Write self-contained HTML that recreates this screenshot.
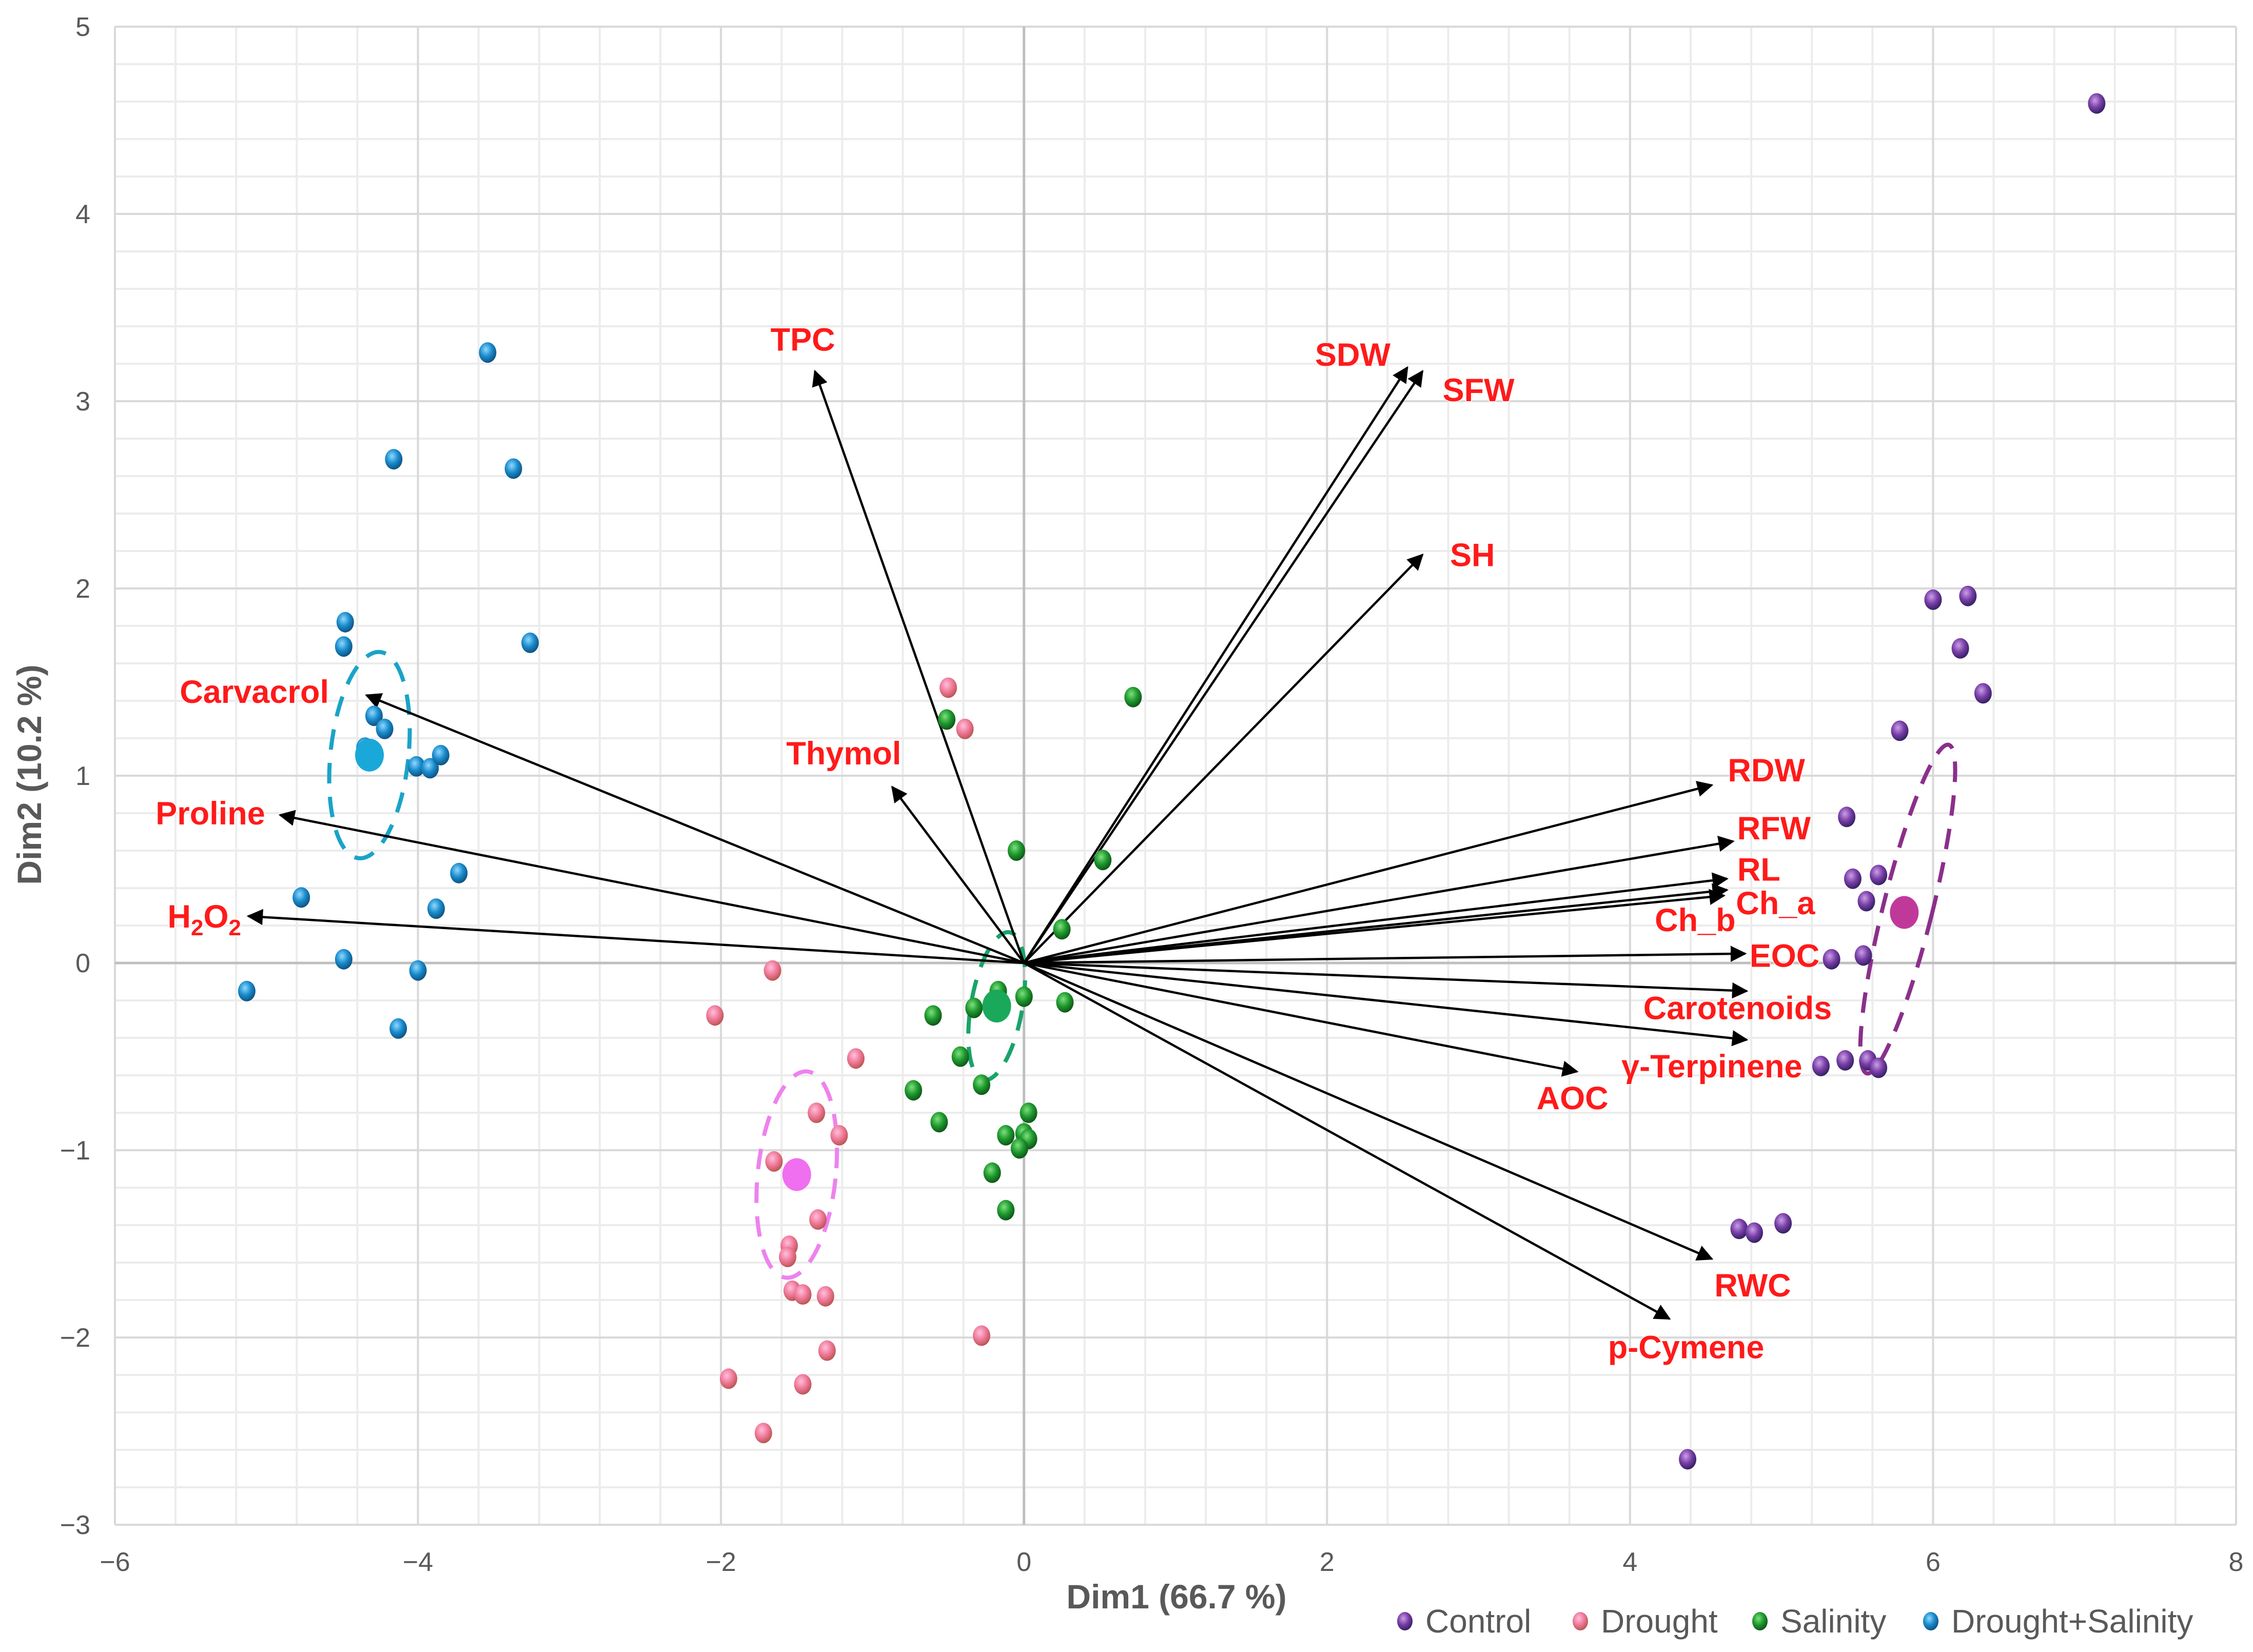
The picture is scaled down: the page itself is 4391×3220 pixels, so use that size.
<!DOCTYPE html>
<html><head><meta charset="utf-8"><style>
html,body{margin:0;padding:0;background:#fff;}
svg{display:block;}
text{font-family:"Liberation Sans",sans-serif;}
</style></head><body>
<svg id="chart" width="4391" height="3220" viewBox="0 0 4391 3220" xmlns="http://www.w3.org/2000/svg">
<defs>
<radialGradient id="gC" cx="0.4" cy="0.35" r="0.7"><stop offset="0" stop-color="#c9a0e6"/><stop offset="0.5" stop-color="#7a3fa8"/><stop offset="1" stop-color="#2a1c5a"/></radialGradient>
<radialGradient id="gD" cx="0.4" cy="0.35" r="0.7"><stop offset="0" stop-color="#ffc0dc"/><stop offset="0.5" stop-color="#f07a9a"/><stop offset="1" stop-color="#b4504a"/></radialGradient>
<radialGradient id="gS" cx="0.4" cy="0.35" r="0.7"><stop offset="0" stop-color="#7ee07e"/><stop offset="0.5" stop-color="#1f9a2f"/><stop offset="1" stop-color="#0b4d14"/></radialGradient>
<radialGradient id="gB" cx="0.4" cy="0.35" r="0.7"><stop offset="0" stop-color="#8fd8ff"/><stop offset="0.5" stop-color="#1a8ccc"/><stop offset="1" stop-color="#0b4a78"/></radialGradient>
<marker id="ah" viewBox="0 0 10 10" refX="9" refY="5" markerWidth="7" markerHeight="7" orient="auto-start-reverse" markerUnits="strokeWidth"><path d="M0,0 L10,5 L0,10 z" fill="#000"/></marker>
</defs>
<g id="grid"></g>
<g id="axes"></g>
<g id="ellipses"></g>
<g id="arrows"></g>
<g id="points"></g>
<g id="labels"></g>
<text x="2293" y="3135" font-size="66" font-weight="bold" fill="#595959" text-anchor="middle">Dim1 (66.7 %)</text>
<text transform="translate(80,1510) rotate(-90)" font-size="66" font-weight="bold" fill="#595959" text-anchor="middle">Dim2 (10.2 %)</text>
<g id="legend"></g>
</svg>
<script>
const xTicks=[-6,-4,-2,0,2,4,6,8];
const yTicks=[-3,-2,-1,0,1,2,3,4,5];
const controlX=[7.08,6.0,6.23,6.18,6.33,5.78,5.43,5.47,5.64,5.56,5.33,5.54,5.26,5.42,5.57,5.64,4.72,4.82,5.01,4.38];
const controlY=[4.59,1.94,1.96,1.68,1.44,1.24,0.78,0.45,0.47,0.33,0.02,0.04,-0.55,-0.52,-0.52,-0.56,-1.42,-1.44,-1.39,-2.65];
const droughtX=[-0.50,-0.39,-1.66,-2.04,-1.11,-1.37,-1.22,-1.65,-1.36,-1.55,-1.56,-1.53,-1.46,-1.31,-1.30,-0.28,-1.95,-1.46,-1.72];
const droughtY=[1.47,1.25,-0.04,-0.28,-0.51,-0.80,-0.92,-1.06,-1.37,-1.51,-1.57,-1.75,-1.77,-1.78,-2.07,-1.99,-2.22,-2.25,-2.51];
const salinityX=[0.72,-0.51,-0.05,0.52,0.25,-0.17,0,0.27,-0.60,-0.33,-0.42,-0.28,-0.73,-0.56,0.03,0,-0.12,0.03,-0.03,-0.21,-0.12];
const salinityY=[1.42,1.30,0.60,0.55,0.18,-0.15,-0.18,-0.21,-0.28,-0.24,-0.50,-0.65,-0.68,-0.85,-0.80,-0.91,-0.92,-0.94,-0.99,-1.12,-1.32];
const dsX=[-3.54,-4.16,-3.37,-4.48,-4.49,-3.26,-4.29,-4.22,-4.35,-4.01,-3.92,-3.85,-3.73,-4.77,-3.88,-4.49,-4.0,-5.13,-4.13];
const dsY=[3.26,2.69,2.64,1.82,1.69,1.71,1.32,1.25,1.15,1.05,1.04,1.11,0.48,0.35,0.29,0.02,-0.04,-0.15,-0.35];
const groupNames=["Control","Drought","Salinity","Drought+Salinity"];
const centroidX=[5.81,-1.50,-0.18,-4.32];
const centroidY=[0.27,-1.13,-0.23,1.11];
const varNames=["TPC","SDW","SFW","SH","Thymol","Carvacrol","Proline","H2O2","RDW","RFW","RL","Ch_a","Ch_b","EOC","Carotenoids","γ-Terpinene","AOC","RWC","p-Cymene"];
const loadX=[-1.38,2.53,2.63,2.63,-0.87,-4.34,-4.91,-5.12,4.54,4.68,4.64,4.64,4.62,4.76,4.77,4.77,3.65,4.54,4.26];
const loadY=[3.16,3.18,3.16,2.18,0.94,1.43,0.79,0.25,0.95,0.65,0.45,0.39,0.36,0.05,-0.15,-0.41,-0.58,-1.58,-1.90];
const labelX=[-1.46,2.17,3.00,2.96,-1.19,-5.08,-5.37,-5.41,4.90,4.95,4.85,4.96,4.43,5.02,4.71,4.54,3.62,4.81,4.37];
const labelY=[3.33,3.25,3.06,2.18,1.12,1.45,0.80,0.25,1.03,0.72,0.50,0.32,0.23,0.04,-0.24,-0.55,-0.72,-1.72,-2.05];

const L=224,R=4358,T=52,B=2972,xmin=-6,xmax=8,ymin=-3,ymax=5;
const X=v=>L+(v-xmin)/(xmax-xmin)*(R-L);
const Y=v=>B-(v-ymin)/(ymax-ymin)*(B-T);
const NS="http://www.w3.org/2000/svg";
function mk(tag,attrs,parent){const e=document.createElementNS(NS,tag);for(const k in attrs)e.setAttribute(k,attrs[k]);parent.appendChild(e);return e;}
const grid=document.getElementById('grid');
for(let v=xmin;v<=xmax+1e-9;v+=0.4){const e=mk('line',{x1:X(v),x2:X(v),y1:T,y2:B,stroke:'#ececec','stroke-width':4},grid);

}
for(let v=ymin;v<=ymax+1e-9;v+=0.2){const e=mk('line',{x1:L,x2:R,y1:Y(v),y2:Y(v),stroke:'#ececec','stroke-width':4},grid);

}
xTicks.forEach(v=>{const e=mk('line',{x1:X(v),x2:X(v),y1:T,y2:B,stroke:'#d9d9d9','stroke-width':4},grid);


const t=mk('text',{x:X(v),y:3062,'font-size':52,fill:'#595959','text-anchor':'middle'},grid);t.textContent=(v<0?'\u2212':'')+Math.abs(v);

});
yTicks.forEach(v=>{const e=mk('line',{x1:L,x2:R,y1:Y(v),y2:Y(v),stroke:'#d9d9d9','stroke-width':4},grid);


const t=mk('text',{x:176,y:Y(v)+18,'font-size':52,fill:'#595959','text-anchor':'end'},grid);t.textContent=(v<0?'\u2212':'')+Math.abs(v);

});
const axes=document.getElementById('axes');
const ax1=mk('line',{x1:X(0),x2:X(0),y1:T,y2:B,stroke:'#bfbfbf','stroke-width':5},axes);


const ax2=mk('line',{x1:L,x2:R,y1:Y(0),y2:Y(0),stroke:'#bfbfbf','stroke-width':5},axes);



const ell=document.getElementById('ellipses');
const ellRx=[48,76,50,76], ellRy=[330,202,146,202], ellRot=[14,6,10,6], ellCol=['#8b2f8b','#ee82ee','#1aa36a','#1aa3c8'];
centroidX.forEach((cx,i)=>{const e=mk('ellipse',{cx:X(cx)+(i==0?5:0),cy:Y(centroidY[i])+(i==0?-8:0),rx:ellRx[i],ry:ellRy[i],fill:'none',stroke:ellCol[i],'stroke-width':8,'stroke-dasharray':'40 26',transform:`rotate(${ellRot[i]} ${X(cx)} ${Y(centroidY[i])})`},ell);

});

const arr=document.getElementById('arrows');
loadX.forEach((lx,i)=>{const e=mk('line',{x1:X(0),y1:Y(0),x2:X(lx),y2:Y(loadY[i]),stroke:'#000','stroke-width':4.5,'marker-end':'url(#ah)'},arr);

});

const pts=document.getElementById('points');
const sets=[[controlX,controlY,'gC'],[droughtX,droughtY,'gD'],[salinityX,salinityY,'gS'],[dsX,dsY,'gB']];
sets.forEach((s,g)=>{s[0].forEach((vx,i)=>{const e=mk('ellipse',{cx:X(vx),cy:Y(s[1][i]),rx:17,ry:20,fill:`url(#${s[2]})`},pts);

});});
const cCols=['#c0399a','#f06ef0','#1aa85a','#1aa8d8'];
centroidX.forEach((cx,i)=>{const e=mk('ellipse',{cx:X(cx),cy:Y(centroidY[i]),rx:28,ry:32,fill:cCols[i]},pts);

});

const lab=document.getElementById('labels');
varNames.forEach((n,i)=>{const t=mk('text',{x:X(labelX[i]),y:Y(labelY[i])+22,'font-size':63,'font-weight':'bold',fill:'#ff1a1a','text-anchor':'middle',stroke:'#ffffff','stroke-width':3,'paint-order':'stroke'},lab);
if(n==='H2O2'){t.innerHTML='H<tspan font-size="44" dy="15">2</tspan><tspan dy="-15">O</tspan><tspan font-size="44" dy="15">2</tspan>';}else t.textContent=n;

});

const leg=document.getElementById('legend');
const legX=[2738,3080,3430,3763], legGrad=['gC','gD','gS','gB'];
groupNames.forEach((n,i)=>{const g=mk('g',{},leg);


mk('ellipse',{cx:legX[i],cy:3160,rx:15,ry:18,fill:`url(#${legGrad[i]})`},g);
const t=mk('text',{x:legX[i]+40,y:3182,'font-size':64,fill:'#595959'},g);t.textContent=n;});
</script>
</body></html>
